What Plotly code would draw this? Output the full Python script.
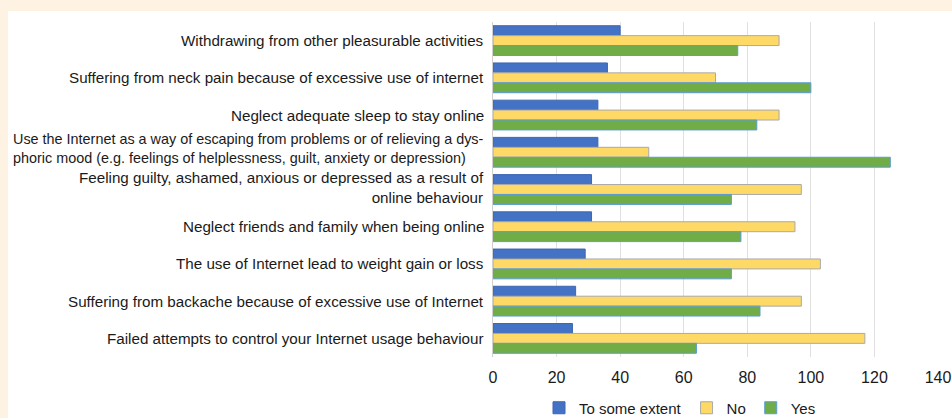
import plotly.graph_objects as go

categories = [
    "Withdrawing from other pleasurable activities",
    "Suffering from neck pain because of excessive use of internet",
    "Neglect adequate sleep to stay online",
    "Use the Internet as a way of escaping from problems or of relieving a dys-<br>phoric mood (e.g. feelings of helplessness, guilt, anxiety or depression)",
    "Feeling guilty, ashamed, anxious or depressed as a result of<br>online behaviour",
    "Neglect friends and family when being online",
    "The use of Internet lead to weight gain or loss",
    "Suffering from backache because of excessive use of Internet",
    "Failed attempts to control your Internet usage behaviour",
]
label_align = ["right", "right", "right", "left", "right", "right", "right", "right", "right"]
label_size = [15.2, 15.2, 15.2, 14.4, 15.2, 15.2, 15.2, 15.2, 15.2]
label_shift = [0, 0, 0, 4, 2, 0, 0, 0, 0]

some_extent = [40, 36, 33, 33, 31, 31, 29, 26, 25]
no_vals = [90, 70, 90, 49, 97, 95, 103, 97, 117]
yes_vals = [77, 100, 83, 125, 75, 78, 75, 84, 64]

series_names = ["To some extent", "No", "Yes"]
series_values = [some_extent, no_vals, yes_vals]
colors = ["#4472C4", "#FFD966", "#70AD47"]
line_colors = ["#3F66B0", "#A9A9A9", "#5B9BD5"]

x_ticks = [0, 20, 40, 60, 80, 100, 120, 140]

W, H = 952, 418
ml, mr, mt, mb = 493, 14, 22, 61

fig = go.Figure()
for name, vals, c, lc in zip(series_names, series_values, colors, line_colors):
    fig.add_trace(go.Bar(
        y=categories, x=vals, name=name, orientation="h",
        marker=dict(color=c, line=dict(color=lc, width=1)),
    ))

annotations = []
for cat, al, fs, ys in zip(categories, label_align, label_size, label_shift):
    annotations.append(dict(
        xref="paper", yref="y", x=0, y=cat, xanchor="right", yanchor="middle",
        xshift=-7, yshift=ys, text=cat, align=al, showarrow=False,
        font=dict(family="Liberation Sans, Arial", size=fs, color="#1a1a1a"),
    ))

pw = W - ml - mr
ph = H - mt - mb
fig.add_shape(type="rect", xref="paper", yref="paper",
              x0=(8 - ml) / pw, x1=(W + 5 - ml) / pw,
              y0=(H - mb - (H + 5)) / ph, y1=(H - mb - 11) / ph,
              fillcolor="white", line=dict(width=0), layer="below")

fig.update_layout(
    width=W, height=H,
    margin=dict(l=ml, r=mr, t=mt, b=mb, autoexpand=False),
    paper_bgcolor="#FEF3E2",
    plot_bgcolor="white",
    barmode="group",
    bargap=0.2,
    bargroupgap=0,
    annotations=annotations,
    font=dict(family="Liberation Sans, Arial", color="#1a1a1a"),
    legend=dict(orientation="h", x=(539 - ml) / pw, xanchor="left",
                y=(H - mb - 408) / ph, yanchor="middle",
                font=dict(size=15), itemwidth=30, bgcolor="rgba(0,0,0,0)", traceorder="normal"),
    showlegend=True,
)
fig.update_xaxes(range=[0, 140], tickvals=x_ticks, showgrid=True, gridcolor="#E0E0E0",
                 gridwidth=1, zeroline=False, showline=False, ticks="", automargin=False,
                 ticklabelstandoff=9,
                 tickfont=dict(size=16, color="#1a1a1a"), fixedrange=True)
fig.update_yaxes(autorange="reversed", showticklabels=False, showgrid=False, showline=True,
                 linecolor="#D0D0D0", linewidth=1, ticks="", automargin=False, fixedrange=True)

fig.write_html("out.html", config={"displayModeBar": False},
               post_script="document.body.style.margin='0';document.body.style.overflow='hidden';")
